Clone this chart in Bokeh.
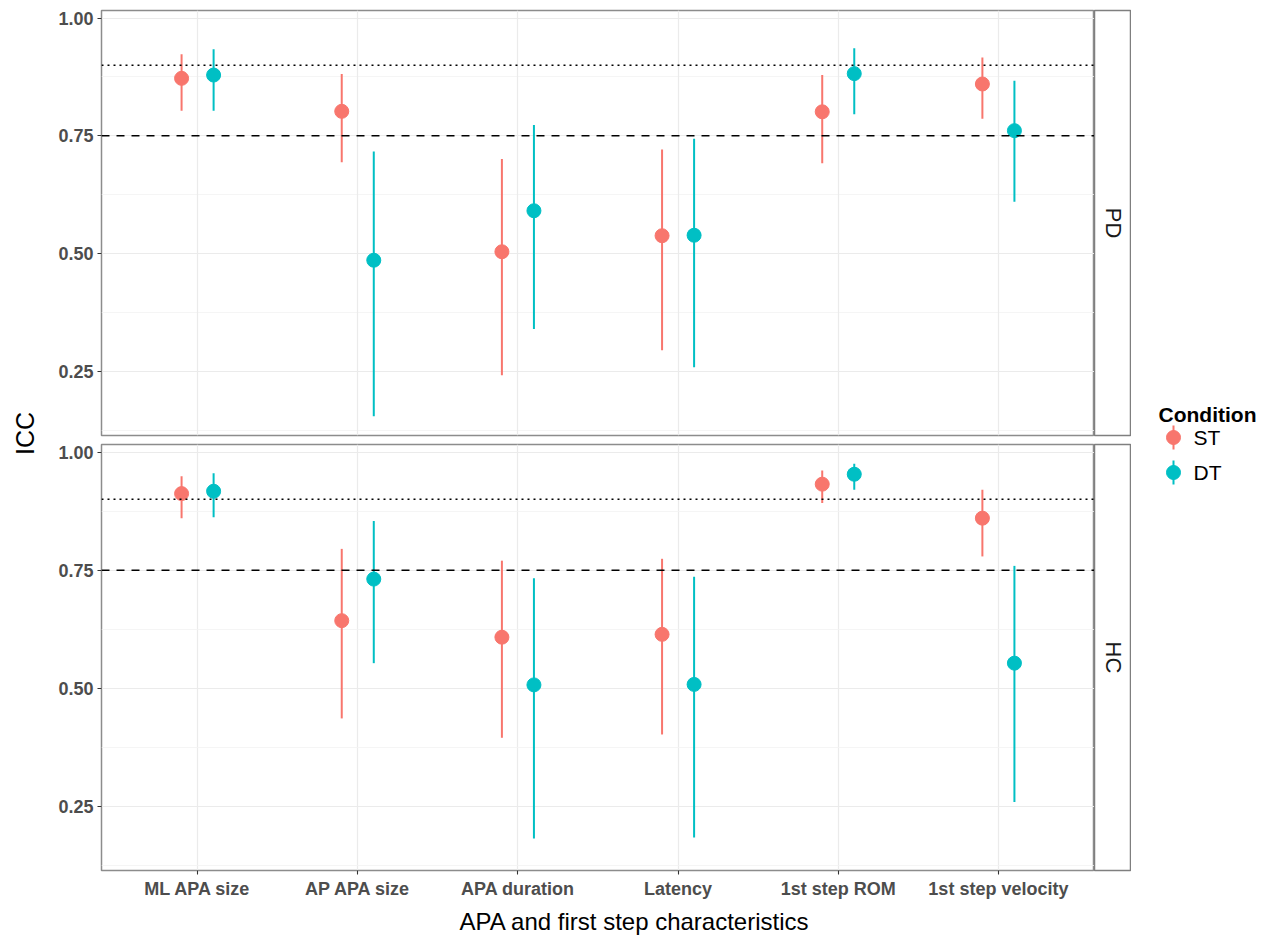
import math
from bokeh.plotting import figure
from bokeh.models import (ColumnDataSource, FactorRange, Range1d, FixedTicker, Grid,
                          CategoricalTicker, Span, Label, Title, NumeralTickFormatter)
from bokeh.transform import dodge
from bokeh.layouts import row, column
from bokeh.embed import file_html
from bokeh.resources import INLINE
from bokeh.core.properties import value

# ---------------- data ----------------
categories = ["ML APA size", "AP APA size", "APA duration", "Latency",
              "1st step ROM", "1st step velocity"]
groups = ["PD", "HC"]
conditions = ["ST", "DT"]

pd_st_icc = [0.872, 0.802, 0.504, 0.538, 0.801, 0.860]
pd_st_lo = [0.803, 0.694, 0.242, 0.295, 0.692, 0.786]
pd_st_hi = [0.923, 0.881, 0.701, 0.721, 0.879, 0.916]
pd_dt_icc = [0.879, 0.486, 0.591, 0.539, 0.882, 0.761]
pd_dt_lo = [0.803, 0.155, 0.340, 0.259, 0.796, 0.610]
pd_dt_hi = [0.934, 0.717, 0.773, 0.744, 0.936, 0.867]

hc_st_icc = [0.912, 0.643, 0.608, 0.614, 0.932, 0.860]
hc_st_lo = [0.860, 0.436, 0.395, 0.402, 0.892, 0.779]
hc_st_hi = [0.949, 0.795, 0.770, 0.774, 0.961, 0.920]
hc_dt_icc = [0.917, 0.731, 0.507, 0.508, 0.953, 0.553]
hc_dt_lo = [0.862, 0.553, 0.182, 0.184, 0.920, 0.259]
hc_dt_hi = [0.955, 0.854, 0.733, 0.736, 0.975, 0.759]

y_ticks = [0.25, 0.50, 0.75, 1.00]
y_minor_ticks = [0.125, 0.375, 0.625, 0.875]
good_icc = 0.75
excellent_icc = 0.90
x_title = "APA and first step characteristics"
y_title = "ICC"
legend_title = "Condition"

series = {
    ("PD", "ST"): (pd_st_icc, pd_st_lo, pd_st_hi),
    ("PD", "DT"): (pd_dt_icc, pd_dt_lo, pd_dt_hi),
    ("HC", "ST"): (hc_st_icc, hc_st_lo, hc_st_hi),
    ("HC", "DT"): (hc_dt_icc, hc_dt_lo, hc_dt_hi),
}

# ---------------- style ----------------
cond_colors = {"ST": "#F8766D", "DT": "#00BFC4"}
cond_offset = {"ST": -0.1, "DT": 0.1}
SANS = "Liberation Sans"
BORDER = "#8C8C8C"

all_vals = [v for k in series for arr in series[k] for v in arr]
vmin, vmax = min(all_vals), max(all_vals)
pad = 0.05 * (vmax - vmin)
y_start, y_end = vmin - pad, vmax + pad

x_range = FactorRange(factors=categories, range_padding=0.1,
                      range_padding_units="absolute")

ICC_W = 48
PANEL_W = 1046
STRIP_W = 37
LEG_W = 134
TOTAL_H = 942


def hide_grids(f):
    for g in f.grid:
        g.visible = False


def make_panel(group, height, top, bottom, show_x):
    p = figure(width=PANEL_W, height=height, x_range=x_range,
               y_range=Range1d(y_start, y_end),
               output_backend="svg", toolbar_location=None,
               x_axis_location="below" if show_x else None,
               min_border_left=53, min_border_right=0,
               min_border_top=top, min_border_bottom=bottom)
    p.outline_line_color = BORDER
    p.outline_line_width = 1.5
    p.background_fill_color = "white"
    p.border_fill_color = "white"

    yt = FixedTicker(ticks=y_ticks, minor_ticks=y_minor_ticks)
    p.yaxis.ticker = yt
    p.ygrid.ticker = yt
    p.yaxis.formatter = NumeralTickFormatter(format="0.00")
    p.ygrid.grid_line_color = "#EBEBEB"
    p.ygrid.grid_line_width = 1.2
    p.ygrid.minor_grid_line_color = "#F2F2F2"
    p.ygrid.minor_grid_line_width = 0.8

    axes = list(p.yaxis)
    if show_x:
        axes += list(p.xaxis)
        p.xgrid.grid_line_color = "#EBEBEB"
        p.xgrid.grid_line_width = 1.2
    else:
        for g in p.xgrid:
            g.visible = False
        p.add_layout(Grid(dimension=0, ticker=CategoricalTicker(),
                          grid_line_color="#EBEBEB", grid_line_width=1.2))
    for ax in axes:
        ax.axis_line_color = None
        ax.major_tick_line_color = "#333333"
        ax.major_tick_line_width = 1.1
        ax.major_tick_out = 4
        ax.major_tick_in = 0
        ax.minor_tick_line_color = None
        ax.major_label_standoff = 4
        ax.major_label_text_font = SANS
        ax.major_label_text_font_style = "bold"
        ax.major_label_text_font_size = "18px"
        ax.major_label_text_color = "#4D4D4D"

    p.add_layout(Span(location=excellent_icc, dimension="width", line_color="black",
                      line_width=1.5, line_dash="2 4"))
    p.add_layout(Span(location=good_icc, dimension="width", line_color="black",
                      line_width=1.5, line_dash="8 7"))

    for cond in conditions:
        icc, lo, hi = series[(group, cond)]
        src = ColumnDataSource(dict(cat=categories, icc=icc, lo=lo, hi=hi))
        xd = dodge("cat", cond_offset[cond], range=x_range)
        p.segment(x0=xd, y0="lo", x1=xd, y1="hi", source=src,
                  line_color=cond_colors[cond], line_width=2)
        p.scatter(x=xd, y="icc", source=src, size=14, marker="circle",
                  fill_color=cond_colors[cond], line_color=cond_colors[cond])
    return p


def make_strip(label, height, top, bottom):
    s = figure(width=STRIP_W, height=height, x_range=Range1d(0, 1), y_range=Range1d(0, 1),
               output_backend="svg", toolbar_location=None,
               x_axis_location=None, y_axis_location=None,
               min_border_left=0, min_border_right=0,
               min_border_top=top, min_border_bottom=bottom)
    hide_grids(s)
    s.outline_line_color = "#7F7F7F"
    s.outline_line_width = 1.5
    s.background_fill_color = "white"
    s.text(x=[0.5], y=[0.5], text=[label], angle=-math.pi / 2,
           text_align="center", text_baseline="middle",
           text_font=value(SANS), text_font_size="22px", text_color="#1A1A1A")
    return s


top_h, top_t, top_b = 440, 10, 5
bot_h, bot_t, bot_b = TOTAL_H - 440, 4, TOTAL_H - 440 - 4 - 426

p_top = make_panel(groups[0], top_h, top_t, top_b, False)
p_bot = make_panel(groups[1], bot_h, bot_t, bot_b, True)
s_top = make_strip(groups[0], top_h, top_t, top_b)
s_bot = make_strip(groups[1], bot_h, bot_t, bot_b)

# x axis title
p_bot.add_layout(Title(text=x_title, align="left", offset=358, standoff=8,
                       text_font=SANS, text_font_size="24px", text_font_style="normal",
                       text_color="black"), "below")

# y axis title in its own column
icc_fig = figure(width=ICC_W, height=TOTAL_H, x_range=Range1d(0, 1), y_range=Range1d(0, 1),
                 output_backend="svg", toolbar_location=None,
                 x_axis_location=None, y_axis_location=None, min_border=0)
hide_grids(icc_fig)
icc_fig.outline_line_color = None
icc_fig.add_layout(Label(x=24, y=TOTAL_H - 433, x_units="screen", y_units="screen",
                         text=y_title, angle=math.pi / 2, text_align="center",
                         text_baseline="middle", text_font=SANS,
                         text_font_size="25px", text_color="black"))

# legend
leg = figure(width=LEG_W, height=TOTAL_H, x_range=Range1d(0, LEG_W), y_range=Range1d(TOTAL_H, 0),
             output_backend="svg", toolbar_location=None,
             x_axis_location=None, y_axis_location=None, min_border=0)
hide_grids(leg)
leg.outline_line_color = None
leg_x0, leg_title_y, key_x, key_y0, key_pitch, key_half, lab_x = 27, 414, 42, 437, 35, 12, 62
leg.text(x=[leg_x0], y=[leg_title_y], text=[legend_title], text_font=value(SANS),
         text_font_style="bold", text_font_size="21px", text_baseline="alphabetic",
         text_color="black")
for i, cond in enumerate(conditions):
    ky = key_y0 + i * key_pitch
    leg.segment(x0=[key_x], y0=[ky - key_half], x1=[key_x], y1=[ky + key_half],
                line_color=cond_colors[cond], line_width=2)
    leg.scatter(x=[key_x], y=[ky], size=14, marker="circle",
                fill_color=cond_colors[cond], line_color=cond_colors[cond])
    leg.text(x=[lab_x], y=[ky], text=[cond], text_font=value(SANS),
             text_font_size="21px", text_baseline="middle", text_color="black")

layout = row(icc_fig,
             column(row(p_top, s_top), row(p_bot, s_bot)),
             leg)

open("out.html", "w").write(file_html(layout, INLINE))
